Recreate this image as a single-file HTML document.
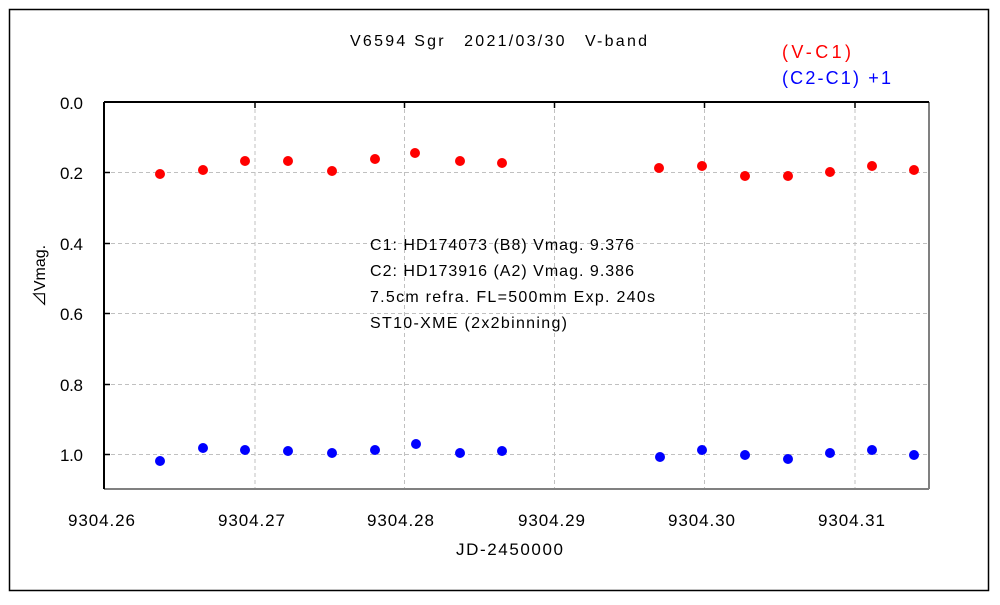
<!DOCTYPE html>
<html><head><meta charset="utf-8"><style>
html,body{margin:0;padding:0;background:#fff;}
svg text{font-family:"Liberation Sans","Noto Sans CJK JP",sans-serif;}
</style></head><body>
<svg width="1000" height="600" xmlns="http://www.w3.org/2000/svg">
<rect x="9.5" y="9.5" width="979" height="581" fill="#fff" stroke="#000" stroke-width="1.5"/>
<g stroke="#c0c0c0" stroke-dasharray="4,3" stroke-width="1">
<line x1="255" y1="102" x2="255" y2="489"/>
<line x1="404.5" y1="102" x2="404.5" y2="489"/>
<line x1="554.5" y1="102" x2="554.5" y2="489"/>
<line x1="704.5" y1="102" x2="704.5" y2="489"/>
<line x1="855" y1="102" x2="855" y2="489"/>
<line x1="104" y1="172.5" x2="929" y2="172.5"/>
<line x1="104" y1="243.5" x2="929" y2="243.5"/>
<line x1="104" y1="313.5" x2="929" y2="313.5"/>
<line x1="104" y1="384.5" x2="929" y2="384.5"/>
<line x1="104" y1="454.5" x2="929" y2="454.5"/>
</g>
<line x1="104" y1="489" x2="929" y2="489" stroke="#808080" stroke-width="2"/>
<line x1="929" y1="102" x2="929" y2="489" stroke="#808080" stroke-width="2"/>
<line x1="104" y1="102" x2="929" y2="102" stroke="#000" stroke-width="2"/>
<line x1="104" y1="102" x2="104" y2="489" stroke="#000" stroke-width="2"/>
<g stroke="#000" stroke-width="1.5">
<line x1="255" y1="102" x2="255" y2="108"/><line x1="404.5" y1="102" x2="404.5" y2="108"/>
<line x1="554.5" y1="102" x2="554.5" y2="108"/><line x1="704.5" y1="102" x2="704.5" y2="108"/>
<line x1="855" y1="102" x2="855" y2="108"/>
<line x1="104" y1="172.5" x2="110" y2="172.5"/><line x1="104" y1="243.5" x2="110" y2="243.5"/>
<line x1="104" y1="313.5" x2="110" y2="313.5"/><line x1="104" y1="384.5" x2="110" y2="384.5"/>
<line x1="104" y1="454.5" x2="110" y2="454.5"/>
</g>
<g font-size="17" fill="#000">
<text x="60" y="109" textLength="23">0.0</text><text x="60" y="179" textLength="23">0.2</text><text x="60" y="250" textLength="23">0.4</text>
<text x="60" y="320" textLength="23">0.6</text><text x="60" y="391" textLength="23">0.8</text><text x="60" y="461" textLength="23">1.0</text>
</g>
<g font-size="17" fill="#000">
<text x="68" y="526" textLength="67">9304.26</text><text x="218" y="526" textLength="67">9304.27</text><text x="367" y="526" textLength="67">9304.28</text>
<text x="518" y="526" textLength="67">9304.29</text><text x="668" y="526" textLength="67">9304.30</text><text x="818" y="526" textLength="67">9304.31</text>
<text x="456" y="555" textLength="107">JD-2450000</text>
</g>
<text x="45" y="276" font-size="16" text-anchor="middle" transform="rotate(-90 45 276)">⊿Vmag.</text>
<text x="350" y="46" font-size="16" textLength="297">V6594 Sgr　2021/03/30　V-band</text>
<text x="782" y="58" font-size="18" fill="#ff0000" textLength="69">(V-C1)</text>
<text x="782" y="84" font-size="18" fill="#0000ff" textLength="109">(C2-C1) +1</text>
<g font-size="16" fill="#000">
<text x="370" y="250" textLength="264">C1: HD174073 (B8) Vmag. 9.376</text>
<text x="370" y="276" textLength="264">C2: HD173916 (A2) Vmag. 9.386</text>
<text x="370" y="302" textLength="285">7.5cm refra. FL=500mm  Exp. 240s</text>
<text x="370" y="328" textLength="197">ST10-XME (2x2binning)</text>
</g>
<g fill="#ff0000">
<circle cx="160" cy="174" r="5"/><circle cx="203" cy="170" r="5"/><circle cx="245" cy="161" r="5"/>
<circle cx="288" cy="161" r="5"/><circle cx="332" cy="171" r="5"/><circle cx="375" cy="159" r="5"/>
<circle cx="415" cy="153" r="5"/><circle cx="460" cy="161" r="5"/><circle cx="502" cy="163" r="5"/>
<circle cx="659" cy="168" r="5"/><circle cx="702" cy="166" r="5"/><circle cx="745" cy="176" r="5"/>
<circle cx="788" cy="176" r="5"/><circle cx="830" cy="172" r="5"/><circle cx="872" cy="166" r="5"/>
<circle cx="914" cy="170" r="5"/>
</g>
<g fill="#0000ff">
<circle cx="160" cy="461" r="5"/><circle cx="203" cy="448" r="5"/><circle cx="245" cy="450" r="5"/>
<circle cx="288" cy="451" r="5"/><circle cx="332" cy="453" r="5"/><circle cx="375" cy="450" r="5"/>
<circle cx="416" cy="444" r="5"/><circle cx="460" cy="453" r="5"/><circle cx="502" cy="451" r="5"/>
<circle cx="660" cy="457" r="5"/><circle cx="702" cy="450" r="5"/><circle cx="745" cy="455" r="5"/>
<circle cx="788" cy="459" r="5"/><circle cx="830" cy="453" r="5"/><circle cx="872" cy="450" r="5"/>
<circle cx="914" cy="455" r="5"/>
</g>
</svg>
</body></html>
